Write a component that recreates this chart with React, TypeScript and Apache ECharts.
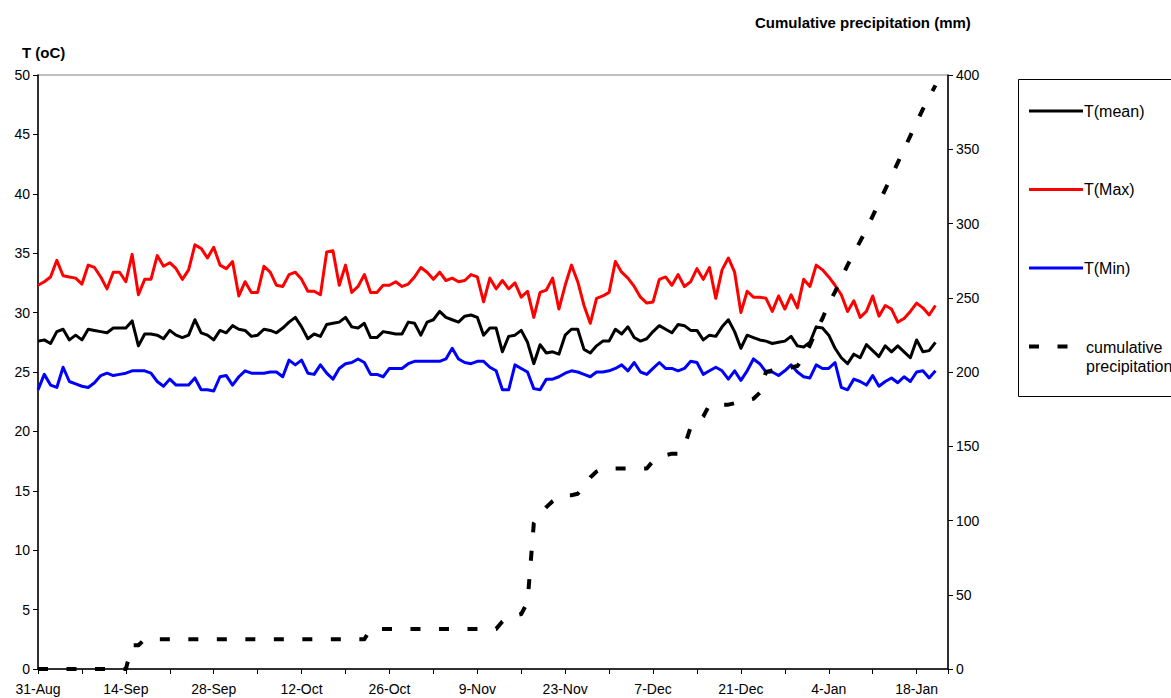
import React, { useEffect, useRef } from "react";
import * as echarts from "echarts";

// Daily series starting 31-Aug (day 0) through 21-Jan (day 143)
const tMean = [
  27.6, 27.7, 27.4, 28.4, 28.6, 27.7, 28.1, 27.7, 28.6, 28.5, 28.4, 28.3, 28.7, 28.7, 28.7, 29.3, 27.2, 28.2, 28.2, 28.1,
  27.8, 28.5, 28.1, 27.9, 28.1, 29.4, 28.3, 28.1, 27.7, 28.5, 28.3, 28.9, 28.6, 28.5, 28.0, 28.1, 28.6,
  28.5, 28.3, 28.7, 29.2, 29.6, 28.8, 27.8, 28.2, 28.0, 29.0, 29.1, 29.2, 29.6, 28.8, 28.7, 29.1, 27.9, 27.9, 28.4,
  28.3, 28.2, 28.2, 29.2, 29.1, 28.1, 29.2, 29.4, 30.1, 29.6, 29.4, 29.2, 29.7, 29.8, 29.6, 28.1, 28.7,
  28.7, 26.7, 28.0, 28.1, 28.5, 27.5, 25.7, 27.3, 26.6, 26.7, 26.5, 28.1, 28.6, 28.6, 26.9, 26.6, 27.2, 27.6,
  27.6, 28.6, 28.2, 28.8, 27.9, 27.6, 27.8, 28.4, 28.9, 28.6, 28.3, 29.0, 28.9, 28.5, 28.5, 27.7, 28.1, 28.0,
  28.8, 29.4, 28.4, 27.0, 28.1, 27.9, 27.7, 27.6, 27.4, 27.5, 27.6, 28.0, 27.2, 27.1, 27.5, 28.8, 28.7, 28.1,
  27.0, 26.2, 25.7, 26.5, 26.2, 27.3, 26.8, 26.3, 27.2, 26.7, 27.2, 26.7, 26.2, 27.7, 26.7, 26.8, 27.5,
];

const tMax = [
  32.3, 32.6, 33.0, 34.4, 33.1, 33.0, 32.9, 32.4, 34.0, 33.8, 33.0, 32.0, 33.4, 33.4, 32.6, 34.9, 31.5, 32.8, 32.8, 34.8,
  33.9, 34.2, 33.7, 32.8, 33.6, 35.7, 35.4, 34.6, 35.5, 34.0, 33.7, 34.3, 31.4, 32.6, 31.7, 31.7, 33.9,
  33.4, 32.3, 32.2, 33.2, 33.4, 32.8, 31.8, 31.8, 31.5, 35.1, 35.2, 32.3, 34.0, 31.7, 32.2, 33.2, 31.7, 31.7, 32.3,
  32.3, 32.6, 32.2, 32.4, 33.0, 33.8, 33.4, 32.8, 33.4, 32.7, 32.9, 32.6, 32.7, 33.2, 33.0, 30.9, 32.9,
  32.0, 32.7, 32.0, 32.5, 31.3, 31.8, 29.6, 31.7, 31.9, 32.9, 30.3, 32.3, 34.0, 32.6, 30.6, 29.1, 31.2, 31.4,
  31.7, 34.3, 33.4, 32.9, 32.2, 31.3, 30.8, 30.9, 32.8, 33.0, 32.3, 33.2, 32.2, 32.6, 33.7, 32.8, 33.8, 31.2,
  33.6, 34.6, 33.4, 30.0, 31.8, 31.3, 31.3, 31.2, 30.1, 31.4, 30.3, 31.5, 30.4, 32.8, 32.2, 34.0, 33.6, 33.0,
  32.3, 31.5, 30.1, 31.0, 29.6, 30.1, 31.4, 29.7, 30.6, 30.3, 29.2, 29.5, 30.1, 30.8, 30.4, 29.8, 30.6,
];

const tMin = [
  23.5, 24.8, 23.9, 23.7, 25.4, 24.2, 24.0, 23.8, 23.7, 24.1, 24.7, 24.9, 24.7, 24.8, 24.9, 25.1, 25.1, 25.1, 24.9, 24.2,
  23.8, 24.4, 23.9, 23.9, 23.9, 24.5, 23.5, 23.5, 23.4, 24.6, 24.7, 23.9, 24.6, 25.1, 24.9, 24.9, 24.9,
  25.0, 25.0, 24.6, 26.0, 25.6, 26.0, 24.9, 24.8, 25.6, 24.9, 24.4, 25.3, 25.7, 25.8, 26.1, 25.8, 24.8, 24.8, 24.6,
  25.3, 25.3, 25.3, 25.7, 25.9, 25.9, 25.9, 25.9, 25.9, 26.1, 27.0, 26.1, 25.8, 25.7, 25.9, 25.9, 25.4,
  25.1, 23.5, 23.5, 25.6, 25.3, 25.0, 23.6, 23.5, 24.4, 24.4, 24.6, 24.9, 25.1, 25.0, 24.8, 24.6, 25.0, 25.0,
  25.1, 25.3, 25.6, 25.1, 25.8, 25.0, 24.8, 25.3, 25.8, 25.3, 25.3, 25.1, 25.3, 25.9, 25.8, 24.8, 25.1, 25.4,
  25.1, 24.4, 25.1, 24.3, 25.1, 26.1, 25.7, 25.0, 25.0, 24.7, 25.1, 25.6, 25.0, 24.6, 24.5, 25.6, 25.3, 25.3,
  25.8, 23.7, 23.5, 24.4, 24.2, 23.9, 24.7, 23.8, 24.2, 24.5, 24.1, 24.6, 24.2, 25.0, 25.1, 24.5, 25.1,
];

// Cumulative precipitation (mm), same days
const precip = [
  0, 0, 0, 0, 0, 0, 0, 0, 0, 0, 0, 0, 0, 0, 0, 16, 16, 20, 20, 20,
  20, 20, 20, 20, 20, 20, 20, 20, 20, 20, 20, 20, 20, 20, 20, 20, 20, 20, 20, 20,
  20, 20, 20, 20, 20, 20, 20, 20, 20, 20, 20, 20, 20, 27, 27, 27, 27, 27, 27, 27,
  27, 27, 27, 27, 27, 27, 27, 27, 27, 27, 27, 27, 27, 27, 32, 35, 36, 37, 45, 98,
  104, 109, 113, 116, 117, 117, 118, 123, 129, 133, 135, 135, 135, 135, 135, 135, 135, 135, 140, 143,
  144, 145, 145, 150, 163, 165, 170, 178, 178, 178, 178, 179, 180, 181, 182, 186, 200, 201, 202, 202,
  203, 204, 210, 218, 228, 236, 246, 254, 263, 272, 280, 288, 296, 305, 314, 323, 332, 341, 350, 359,
  368, 377, 385, 393,
];

const dateTicks = [
  "31-Aug", "14-Sep", "28-Sep", "12-Oct", "26-Oct", "9-Nov",
  "23-Nov", "7-Dec", "21-Dec", "4-Jan", "18-Jan",
];

const seriesNames = ["T(mean)", "T(Max)", "T(Min)", "cumulative\nprecipitation"];
const seriesColors = ["#000000", "#ff0000", "#0000ff", "#000000"];

const FONT = "'Liberation Sans', Arial, sans-serif";
const PRECIP_DASH = [10, 18.5];

const toPairs = (arr: number[]) => arr.map((v, i) => [i, v]);

export default function App() {
  const ref = useRef<HTMLDivElement>(null);

  useEffect(() => {
    if (!ref.current) return;
    const chart = echarts.init(ref.current, undefined, { renderer: "svg" });

    // Hand-built legend box on the right
    const legendTop = 111;
    const legendStep = 78.5;
    const legendGraphics: any[] = [
      {
        type: "rect",
        shape: { x: 1018.5, y: 79.5, width: 200, height: 317 },
        style: { fill: "#ffffff", stroke: "#000000", lineWidth: 1 },
        z: 10,
      },
    ];
    seriesNames.forEach((name, i) => {
      const y = legendTop + i * legendStep;
      const isPrecip = i === 3;
      legendGraphics.push({
        type: "line",
        shape: { x1: 1029, y1: y, x2: 1083, y2: y },
        style: {
          stroke: seriesColors[i],
          lineWidth: isPrecip ? 4 : 3,
          lineDash: isPrecip ? PRECIP_DASH : null,
        },
        z: 11,
      });
      legendGraphics.push({
        type: "text",
        x: isPrecip ? 1086 : 1084,
        y: isPrecip ? y - 9 : y,
        style: {
          text: name,
          fill: "#000000",
          font: `16px ${FONT}`,
          textVerticalAlign: isPrecip ? "top" : "middle",
          lineHeight: 19,
        },
        z: 11,
      });
    });

    const lineSeries = (idx: number, data: number[], width: number, axis: number, dash?: number[]) => ({
      name: seriesNames[idx],
      type: "line",
      yAxisIndex: axis,
      data: toPairs(data),
      symbol: "none",
      showSymbol: false,
      lineStyle: {
        color: seriesColors[idx],
        width,
        type: dash ?? "solid",
        join: "round",
      },
      itemStyle: { color: seriesColors[idx] },
      z: 2 + idx,
    });

    chart.setOption({
      animation: false,
      backgroundColor: "#ffffff",
      textStyle: { fontFamily: FONT, color: "#000000" },
      title: [
        {
          text: "T (oC)",
          left: 17,
          top: 40,
          textStyle: { fontSize: 15, fontWeight: "bold", fontFamily: FONT, color: "#000" },
        },
        {
          text: "Cumulative precipitation (mm)",
          left: 750,
          top: 10,
          textStyle: { fontSize: 15, fontWeight: "bold", fontFamily: FONT, color: "#000" },
        },
      ],
      grid: {
        left: 38,
        top: 75,
        width: 910,
        height: 594,
        show: true,
        borderColor: "#808080",
        borderWidth: 1,
        backgroundColor: "#ffffff",
      },
      xAxis: {
        type: "value",
        min: 0,
        max: 145,
        interval: 7,
        axisLine: { show: true, lineStyle: { color: "#000", width: 1.5 } },
        axisTick: { show: true, inside: false, length: 5, lineStyle: { color: "#000" } },
        splitLine: { show: false },
        axisLabel: {
          fontSize: 14,
          color: "#000",
          margin: 13,
          fontFamily: FONT,
          formatter: (v: number) => (v % 14 === 0 && v / 14 < dateTicks.length ? dateTicks[v / 14] : ""),
        },
      },
      yAxis: [
        {
          type: "value",
          min: 0,
          max: 50,
          interval: 5,
          position: "left",
          axisLine: { show: true, lineStyle: { color: "#000", width: 1.5 } },
          axisTick: { show: true, inside: false, length: 5, lineStyle: { color: "#000" } },
          splitLine: { show: false },
          axisLabel: { fontSize: 14, color: "#000", margin: 8, fontFamily: FONT },
        },
        {
          type: "value",
          min: 0,
          max: 400,
          interval: 50,
          position: "right",
          axisLine: { show: true, lineStyle: { color: "#000", width: 1.5 } },
          axisTick: { show: true, inside: false, length: 5, lineStyle: { color: "#000" } },
          splitLine: { show: false },
          axisLabel: { fontSize: 14, color: "#000", margin: 8, fontFamily: FONT },
        },
      ],
      series: [
        lineSeries(0, tMean, 3, 0),
        lineSeries(1, tMax, 3, 0),
        lineSeries(2, tMin, 3, 0),
        lineSeries(3, precip, 4, 1, PRECIP_DASH),
      ],
      graphic: legendGraphics,
    });

    return () => chart.dispose();
  }, []);

  return (
    <div
      ref={ref}
      style={{ position: "fixed", left: 0, top: 0, width: 1171, height: 698, background: "#fff" }}
    />
  );
}
